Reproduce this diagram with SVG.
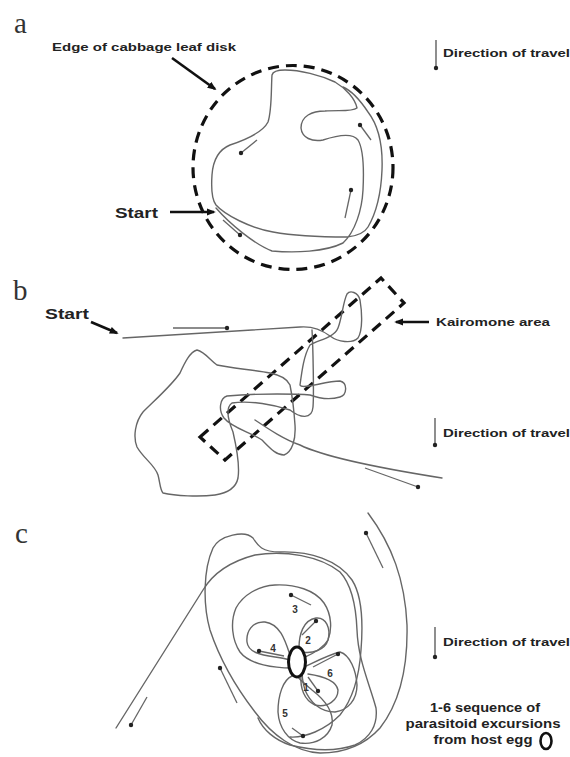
<svg xmlns="http://www.w3.org/2000/svg" width="570" height="757" viewBox="0 0 570 757">
<style>
.lbl{font-family:"Liberation Serif",serif;font-size:29px;fill:#333}
.t{font-family:"Liberation Sans",Arial,sans-serif;font-weight:bold;fill:#222}
.tr{fill:none;stroke:#666;stroke-width:1.4;stroke-linejoin:round;stroke-linecap:round}
.ar{fill:none;stroke:#666;stroke-width:1.3;marker-end:url(#dot)}
.dash{fill:none;stroke:#111;stroke-width:3.2;stroke-dasharray:11 7}
.bk{fill:none;stroke:#111;stroke-width:2.6;marker-end:url(#head)}
.dir{fill:none;stroke:#444;stroke-width:1.2;marker-end:url(#dot)}
.num{font-family:"Liberation Sans",Arial,sans-serif;font-weight:bold;font-size:10px;fill:#333;text-anchor:middle}
</style>
<defs>
<marker id="dot" viewBox="0 0 6 6" refX="3" refY="3" markerWidth="6" markerHeight="6" markerUnits="userSpaceOnUse"><circle cx="3" cy="3" r="2.2" fill="#222"/></marker>
<marker id="head" viewBox="0 0 10 10" refX="8" refY="5" markerWidth="9" markerHeight="9" markerUnits="userSpaceOnUse" orient="auto"><path d="M0,1 L10,5 L0,9 z" fill="#111"/></marker>
</defs>
<rect width="570" height="757" fill="#fff"/>

<!-- Panel a -->
<g id="panel-a">
<text class="lbl" x="14" y="33">a</text>
<text class="t" x="52" y="51" font-size="11.5" textLength="184" lengthAdjust="spacingAndGlyphs">Edge of cabbage leaf disk</text>
<line class="bk" x1="172" y1="58" x2="215" y2="89"/>
<text class="t" x="115" y="218" font-size="15" textLength="43" lengthAdjust="spacingAndGlyphs">Start</text>
<line class="bk" x1="170" y1="212" x2="214" y2="212"/>
<line class="dir" x1="436" y1="40" x2="436" y2="68"/>
<text class="t" x="443" y="57" font-size="11.5" textLength="127" lengthAdjust="spacingAndGlyphs">Direction of travel</text>
<ellipse class="dash" cx="293" cy="167.5" rx="100" ry="102"/>
<path class="tr" d="M216,208 C230,224 254,244 272,251 C295,253 325,252 343,243 C355,232 362,210 363,190 C364,170 364,150 358,140 C352,132 335,136 323,140 C312,142 302,138 301,128 C301,116 312,111 325,111 C340,110 352,112 357,108 C355,98 345,88 335,82 C320,75 300,70 285,70 C278,70 273,71 272,75 C271,90 272,110 268,122 C263,132 245,140 230,145 C218,150 213,160 212,175 C211,190 212,200 216,205 C225,215 250,228 273,232 C295,236 325,237 347,237 C358,236 365,232 368,227 C375,215 381,195 382,170 C383,145 378,125 368,112 C360,100 350,90 343,87"/>
<line class="ar" x1="223" y1="220" x2="240" y2="235"/>
<line class="ar" x1="257" y1="140" x2="241" y2="153"/>
<line class="ar" x1="371" y1="140" x2="360" y2="125"/>
<line class="ar" x1="345" y1="218" x2="351" y2="190"/>
</g>

<!-- Panel b -->
<g id="panel-b">
<text class="lbl" x="13" y="300">b</text>
<text class="t" x="45" y="319" font-size="15" textLength="44" lengthAdjust="spacingAndGlyphs">Start</text>
<line class="bk" x1="91" y1="322" x2="117" y2="333"/>
<path class="dash" d="M200,437 L381,278 L404,303 L225,460 Z"/>
<text class="t" x="436" y="326" font-size="11.5" textLength="114" lengthAdjust="spacingAndGlyphs">Kairomone area</text>
<line class="bk" x1="429" y1="322" x2="396" y2="322"/>
<line class="dir" x1="435" y1="418" x2="435" y2="445"/>
<text class="t" x="443" y="437" font-size="11.5" textLength="127" lengthAdjust="spacingAndGlyphs">Direction of travel</text>
<path class="tr" d="M123,338 L300,327 C312,326 322,330 330,336 C338,342 352,344 358,338 C363,330 362,312 360,300 C358,292 350,290 347,294 C343,302 342,318 338,328 C334,338 318,340 310,345 C304,355 302,370 300,385 C302,390 325,381 340,381 C348,383 347,395 340,397 C330,400 318,398 310,395 C300,394 260,393 227,396 C220,398 218,410 224,418 C232,428 250,432 262,440 C270,448 276,455 284,455 C292,452 296,440 295,425 C294,410 292,395 290,385 C287,378 280,375 270,373 C255,370 230,368 217,365 C210,360 205,352 197,350 C190,352 185,362 180,373 C172,385 155,400 143,412 C135,422 133,437 137,447 C143,458 155,465 158,475 C160,482 160,490 163,493 C175,496 200,497 215,495 C228,493 236,488 238,478 C240,465 236,445 233,432 C228,420 225,408 232,403 C250,400 275,405 290,410 C300,418 312,420 313,407 C314,395 313,345 312,330 M255,420 C270,430 285,440 300,445 C320,455 360,465 442,478"/>
<line class="ar" x1="173" y1="328" x2="227" y2="328"/>
<line class="ar" x1="365" y1="468" x2="418" y2="487"/>
</g>

<!-- Panel c -->
<g id="panel-c">
<text class="lbl" x="15" y="543">c</text>
<line class="dir" x1="435" y1="627" x2="435" y2="657"/>
<text class="t" x="443" y="646" font-size="11.5" textLength="127" lengthAdjust="spacingAndGlyphs">Direction of travel</text>
<text class="t" x="485" y="712" font-size="12" text-anchor="middle" textLength="110" lengthAdjust="spacingAndGlyphs">1-6 sequence of</text>
<text class="t" x="483" y="728" font-size="12" text-anchor="middle" textLength="155" lengthAdjust="spacingAndGlyphs">parasitoid excursions</text>
<text class="t" x="483" y="744" font-size="12" text-anchor="middle" textLength="99" lengthAdjust="spacingAndGlyphs">from host egg</text>
<ellipse cx="546" cy="741" rx="5.5" ry="8" fill="none" stroke="#111" stroke-width="2.6"/>

<path class="tr" d="M368,513 C392,545 405,580 407,625 C408,670 398,705 380,728 C362,748 340,753 320,753 C295,752 272,735 255,712 C238,690 220,660 210,630 C203,605 203,570 213,548 C220,535 245,530 253,538 C258,546 262,552 280,552 C310,551 338,560 352,580 C363,597 363,625 361,650 C359,680 352,700 340,715 C325,730 305,738 290,737"/>
<path class="tr" d="M116,728 L203,590 C212,575 228,562 255,555 C285,550 320,556 340,572 C352,585 356,605 357,630 C358,660 370,685 376,708 C378,725 370,738 355,745 C335,752 310,750 290,745 C275,740 263,730 258,718"/>
<path class="tr" d="M292,668 C275,668 250,665 240,652 C232,640 230,622 236,608 C243,595 258,586 275,585 C295,584 315,590 324,603 C332,615 332,630 328,640 C322,650 310,655 303,658"/>
<path class="tr" d="M290,655 C285,640 280,624 265,622 C252,621 246,632 247,642 C248,652 260,655 275,657 C282,658 287,659 289,660"/>
<path class="tr" d="M299,648 C299,635 303,620 316,618 C326,617 331,628 328,640 C325,650 312,654 302,652"/>
<path class="tr" d="M304,667 C315,662 328,655 340,652 C350,655 356,670 357,685 C357,700 348,710 335,712 C320,712 310,702 305,690 C302,680 302,673 303,670"/>
<path class="tr" d="M301,675 C300,688 304,700 315,705 C328,708 338,700 338,690 C336,680 322,676 308,674"/>
<path class="tr" d="M292,676 C283,680 278,695 278,712 C279,728 288,740 300,743 C315,745 328,738 332,725 C334,712 325,700 312,690 C305,684 300,680 298,677"/>
<ellipse cx="297" cy="662" rx="8.5" ry="15" fill="#fff" stroke="#111" stroke-width="3"/>

<line class="ar" x1="383" y1="568" x2="366" y2="533"/>
<line class="ar" x1="237" y1="703" x2="220" y2="668"/>
<line class="ar" x1="147" y1="697" x2="131" y2="725"/>
<line class="ar" x1="311" y1="605" x2="291" y2="595"/>
<line class="ar" x1="284" y1="656" x2="259" y2="651"/>
<line class="ar" x1="302" y1="635" x2="316" y2="621"/>
<line class="ar" x1="313" y1="667" x2="338" y2="654"/>
<line class="ar" x1="308" y1="677" x2="318" y2="691"/>
<line class="ar" x1="292" y1="728" x2="303" y2="736"/>

<text class="num" x="295" y="613">3</text>
<text class="num" x="308" y="644">2</text>
<text class="num" x="273" y="652">4</text>
<text class="num" x="330" y="677">6</text>
<text class="num" x="306" y="691">1</text>
<text class="num" x="285" y="717">5</text>
</g>
</svg>
